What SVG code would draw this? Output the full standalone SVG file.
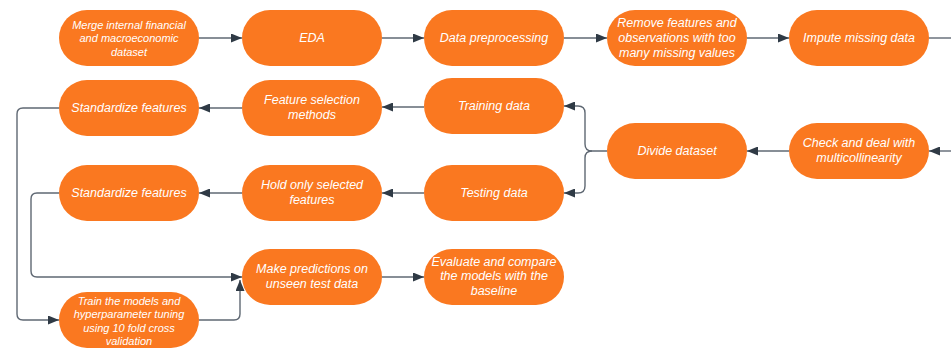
<svg xmlns="http://www.w3.org/2000/svg" width="951" height="351" viewBox="0 0 951 351">
  <style>
    .box { fill: #FA7820; }
    .lbl { font-family: "Liberation Sans", Arial, sans-serif; font-style: italic; font-size: 12.5px; fill: #ffffff; text-anchor: middle; }
    .sm { font-size: 11px; }
    .wire { fill: none; stroke: #5f6873; stroke-width: 1.4; }
    .arr { marker-end: url(#head); }
  </style>
  <defs>
    <marker id="head" markerUnits="userSpaceOnUse" markerWidth="11" markerHeight="9" refX="11" refY="4.5" orient="auto">
      <path d="M0,0 L11,4.5 L0,9 Z" fill="#2f3a45"/>
    </marker>
  </defs>
  <rect width="951" height="351" fill="#ffffff"/>

  <g id="connectors">
    <!-- top row, left to right -->
    <path class="wire arr" d="M199,38 H242"/>
    <path class="wire arr" d="M382,38 H424"/>
    <path class="wire arr" d="M564,38 H607"/>
    <path class="wire arr" d="M747,38 H789"/>
    <path class="wire" d="M929,38 H951"/>
    <!-- right side, coming back -->
    <path class="wire arr" d="M951,151 H929"/>
    <path class="wire arr" d="M789,151 H747"/>
    <!-- split into training / testing -->
    <path class="wire arr" d="M607,151 H592 Q585,151 585,144 V113 Q585,106 578,106 H564"/>
    <path class="wire arr" d="M592,151 Q585,151 585,158 V186 Q585,193 578,193 H564"/>
    <!-- training branch -->
    <path class="wire arr" d="M424,107 H382"/>
    <path class="wire arr" d="M242,108 H199"/>
    <!-- testing branch -->
    <path class="wire arr" d="M424,193 H382"/>
    <path class="wire arr" d="M242,193 H199"/>
    <!-- loops on the left -->
    <path class="wire arr" d="M59,108 H23 Q17,108 17,114 V314 Q17,320 23,320 H59"/>
    <path class="wire arr" d="M59,193 H37 Q31,193 31,199 V271 Q31,277 37,277 H242"/>
    <path class="wire arr" d="M199,320 H234 Q240,320 240,314 V280"/>
    <path class="wire arr" d="M382,277 H424"/>
  </g>

  <g id="merge">
    <rect class="box" x="59" y="10" width="140" height="56" rx="28"/>
    <text class="lbl sm" x="129" y="28.5">Merge internal financial</text>
    <text class="lbl sm" x="129" y="42">and macroeconomic</text>
    <text class="lbl sm" x="129" y="55.5">dataset</text>
  </g>
  <g id="eda">
    <rect class="box" x="242" y="10" width="140" height="56" rx="28"/>
    <text class="lbl" x="312" y="42">EDA</text>
  </g>
  <g id="preprocess">
    <rect class="box" x="424" y="10" width="140" height="56" rx="28"/>
    <text class="lbl" x="494" y="42">Data preprocessing</text>
  </g>
  <g id="remove">
    <rect class="box" x="607" y="10" width="140" height="56" rx="28"/>
    <text class="lbl" x="677" y="26.5">Remove features and</text>
    <text class="lbl" x="677" y="41.5">observations with too</text>
    <text class="lbl" x="677" y="56.5">many missing values</text>
  </g>
  <g id="impute">
    <rect class="box" x="789" y="10" width="140" height="56" rx="28"/>
    <text class="lbl" x="859" y="42">Impute missing data</text>
  </g>
  <g id="multicollinearity">
    <rect class="box" x="789" y="123" width="140" height="56" rx="28"/>
    <text class="lbl" x="859" y="147">Check and deal with</text>
    <text class="lbl" x="859" y="162">multicollinearity</text>
  </g>
  <g id="divide">
    <rect class="box" x="607" y="123" width="140" height="56" rx="28"/>
    <text class="lbl" x="677" y="155">Divide dataset</text>
  </g>
  <g id="training">
    <rect class="box" x="424" y="78" width="140" height="56" rx="28"/>
    <text class="lbl" x="494" y="110">Training data</text>
  </g>
  <g id="selection">
    <rect class="box" x="242" y="80" width="140" height="56" rx="28"/>
    <text class="lbl" x="312" y="104">Feature selection</text>
    <text class="lbl" x="312" y="119">methods</text>
  </g>
  <g id="standardize-train">
    <rect class="box" x="59" y="80" width="140" height="56" rx="28"/>
    <text class="lbl" x="129" y="112">Standardize features</text>
  </g>
  <g id="testing">
    <rect class="box" x="424" y="165" width="140" height="56" rx="28"/>
    <text class="lbl" x="494" y="197">Testing data</text>
  </g>
  <g id="hold">
    <rect class="box" x="242" y="165" width="140" height="56" rx="28"/>
    <text class="lbl" x="312" y="189">Hold only selected</text>
    <text class="lbl" x="312" y="204">features</text>
  </g>
  <g id="standardize-test">
    <rect class="box" x="59" y="165" width="140" height="56" rx="28"/>
    <text class="lbl" x="129" y="197">Standardize features</text>
  </g>
  <g id="predict">
    <rect class="box" x="242" y="249" width="140" height="56" rx="28"/>
    <text class="lbl" x="312" y="272.5">Make predictions on</text>
    <text class="lbl" x="312" y="287.5">unseen test data</text>
  </g>
  <g id="evaluate">
    <rect class="box" x="424" y="249" width="140" height="56" rx="28"/>
    <text class="lbl" x="494" y="265.5">Evaluate and compare</text>
    <text class="lbl" x="494" y="280">the models with the</text>
    <text class="lbl" x="494" y="294.5">baseline</text>
  </g>
  <g id="train-models">
    <rect class="box" x="59" y="292" width="140" height="56" rx="28"/>
    <text class="lbl sm" x="129" y="304.5">Train the models and</text>
    <text class="lbl sm" x="129" y="318">hyperparameter tuning</text>
    <text class="lbl sm" x="129" y="331.5">using 10 fold cross</text>
    <text class="lbl sm" x="129" y="345">validation</text>
  </g>
</svg>
